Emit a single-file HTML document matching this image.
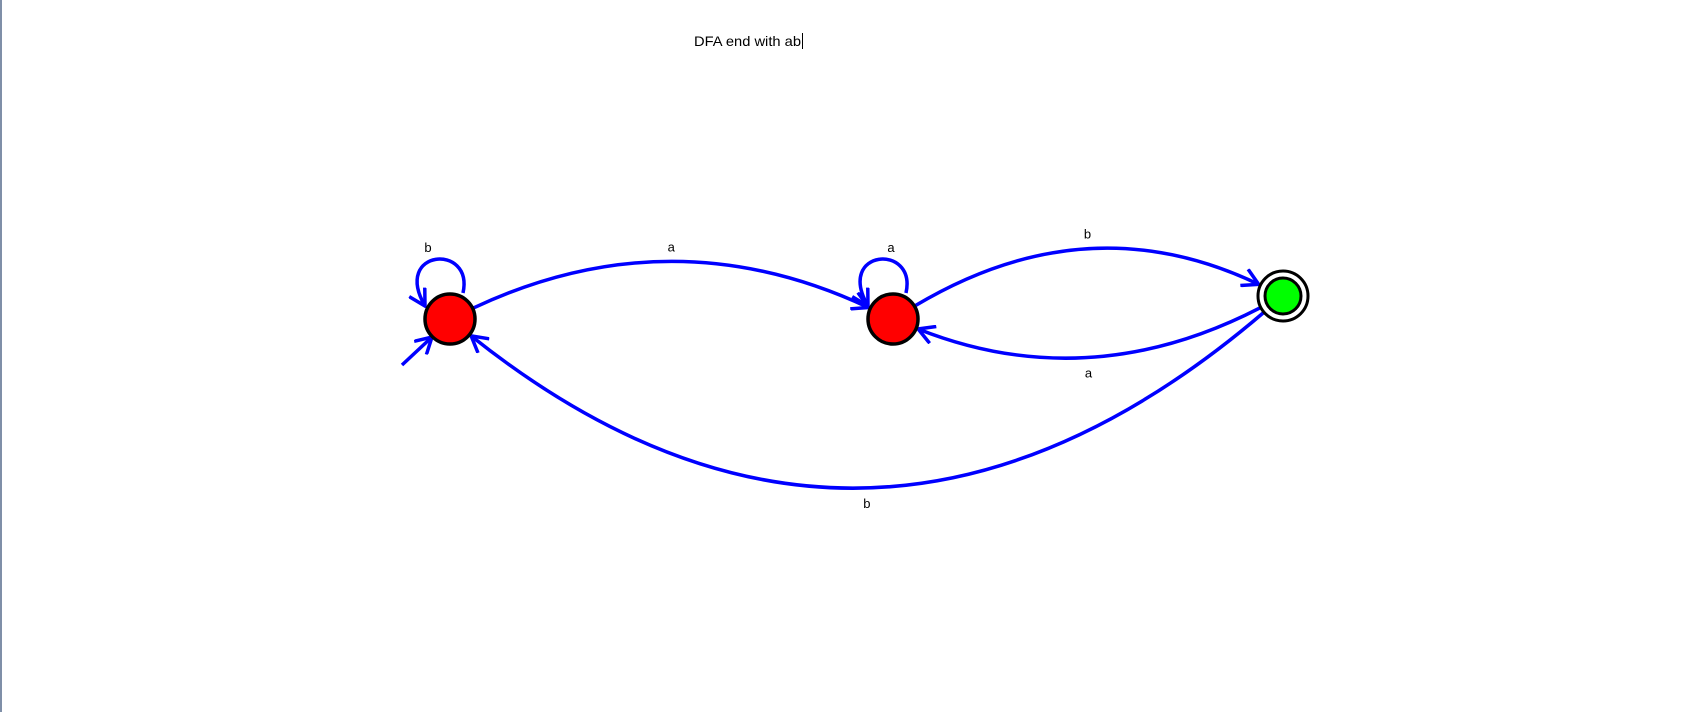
<!DOCTYPE html>
<html><head><meta charset="utf-8">
<style>
html,body{margin:0;padding:0;background:#fff;}
body{width:1700px;height:712px;overflow:hidden;position:relative;}
svg{position:absolute;left:0;top:0;}
text{font-family:"Liberation Sans",sans-serif;font-size:13px;fill:#000;}
</style></head>
<body>
<svg id="c" width="1700" height="712">
  <defs>
    <marker id="arr" viewBox="0 0 20 20" refX="18" refY="10" markerWidth="20" markerHeight="20" markerUnits="userSpaceOnUse" orient="auto">
      <path d="M2,1 L18,10 L2,19" fill="none" stroke="#0000ff" stroke-width="3.5"/>
    </marker>
  </defs>
  <rect x="0" y="0" width="2" height="712" fill="#7f8fa8"/>
  <text x="694" y="46" textLength="107" lengthAdjust="spacingAndGlyphs" style="font-size:14px">DFA end with ab</text>
  <rect x="802" y="33" width="1" height="16" fill="#000"/>
  <g id="edges" fill="none" stroke="#0000ff" stroke-width="3.5"></g>
  <g id="nodes"></g>
  <g id="labels"></g>
</svg>
<script>
const stateNames = ['q0','q1','q2'];
const stateX = [450, 893, 1283];
const stateY = [319, 319, 296];
const stateAccept = [false, false, true];
const edgeFrom = [0, 1, 2, 2];
const edgeTo = [1, 2, 1, 0];
const edgeSym = ['a', 'b', 'a', 'b'];
const edgeBend = [-104, -105, 89, 344];
const loopState = [0, 1];
const loopSym = ['b', 'a'];
const NS = 'http://www.w3.org/2000/svg';
const R = 25;
const eg = document.getElementById('edges');
const ng = document.getElementById('nodes');
const lg = document.getElementById('labels');

function addLabel(x, y, t, name) {
  const tx = document.createElementNS(NS, 'text');
  tx.setAttribute('x', x); tx.setAttribute('y', y);
  tx.setAttribute('text-anchor', 'middle');
  tx.textContent = t;
  
  
  lg.appendChild(tx);
}
function trim(px, py, qx, qy, r) {
  const dx = qx - px, dy = qy - py, d = Math.hypot(dx, dy);
  return [px + dx / d * r, py + dy / d * r];
}

for (let i = 0; i < edgeFrom.length; i++) {
  const x1 = stateX[edgeFrom[i]], y1 = stateY[edgeFrom[i]];
  const x2 = stateX[edgeTo[i]], y2 = stateY[edgeTo[i]];
  const mx = (x1 + x2) / 2, my = (y1 + y2) / 2;
  const cx = mx, cy = my + edgeBend[i];
  const s = trim(x1, y1, cx, cy, R + 1);
  const e = trim(x2, y2, cx, cy, R + 2);
  const p = document.createElementNS(NS, 'path');
  p.setAttribute('d', `M${s[0]},${s[1]} Q${cx},${cy} ${e[0]},${e[1]}`);
  p.setAttribute('marker-end', 'url(#arr)');
  
  
  eg.appendChild(p);
  const peakY = 0.25 * s[1] + 0.5 * cy + 0.25 * e[1];
  const peakX = 0.25 * s[0] + 0.5 * cx + 0.25 * e[0];
  addLabel(peakX, edgeBend[i] < 0 ? peakY - 10 : peakY + 20, edgeSym[i], 'label-' + stateNames[edgeFrom[i]] + '-' + stateNames[edgeTo[i]]);
}

for (let i = 0; i < loopState.length; i++) {
  const x = stateX[loopState[i]], y = stateY[loopState[i]];
  const p = document.createElementNS(NS, 'path');
  p.setAttribute('d', `M${x + 13},${y - 26} C${x + 24},${y - 76} ${x - 58},${y - 70} ${x - 25},${y - 13}`);
  p.setAttribute('marker-end', 'url(#arr)');
  
  
  eg.appendChild(p);
  addLabel(x - (i === 0 ? 22 : 2), y - 67, loopSym[i], 'self-loop-label-' + stateNames[loopState[i]]);
}

const st = document.createElementNS(NS, 'path');
st.setAttribute('d', `M${stateX[0] - 48},${stateY[0] + 46} L${stateX[0] - 18},${stateY[0] + 18}`);
st.setAttribute('marker-end', 'url(#arr)');


eg.appendChild(st);

for (let i = 0; i < stateNames.length; i++) {
  const g = document.createElementNS(NS, 'g');
  
  
  if (stateAccept[i]) {
    const o = document.createElementNS(NS, 'circle');
    o.setAttribute('cx', stateX[i]); o.setAttribute('cy', stateY[i]); o.setAttribute('r', 25);
    o.setAttribute('fill', '#fff'); o.setAttribute('stroke', '#000'); o.setAttribute('stroke-width', 3);
    g.appendChild(o);
    const c = document.createElementNS(NS, 'circle');
    c.setAttribute('cx', stateX[i]); c.setAttribute('cy', stateY[i]); c.setAttribute('r', 18);
    c.setAttribute('fill', '#00ff00'); c.setAttribute('stroke', '#000'); c.setAttribute('stroke-width', 3);
    g.appendChild(c);
  } else {
    const c = document.createElementNS(NS, 'circle');
    c.setAttribute('cx', stateX[i]); c.setAttribute('cy', stateY[i]); c.setAttribute('r', R);
    c.setAttribute('fill', '#ff0000'); c.setAttribute('stroke', '#000'); c.setAttribute('stroke-width', 3.5);
    g.appendChild(c);
  }
  ng.appendChild(g);
}
</script>
</body></html>
